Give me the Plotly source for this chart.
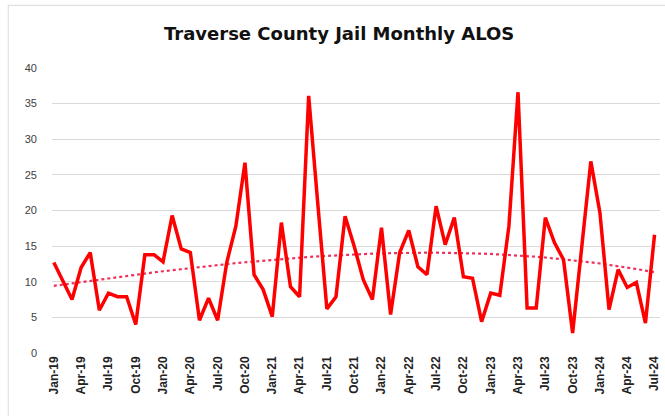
import numpy as np
import plotly.graph_objects as go

months = ["Jan", "Feb", "Mar", "Apr", "May", "Jun", "Jul", "Aug", "Sep", "Oct", "Nov", "Dec"]
categories = [f"{months[m]}-{y % 100:02d}" for y in range(2019, 2025) for m in range(12)][:67]

alos = [12.7, 10.0, 7.5, 12.0, 14.1, 6.0, 8.4, 7.9, 7.9, 4.0, 13.8, 13.8,
        12.8, 19.3, 14.6, 14.1, 4.6, 7.7, 4.6, 12.7, 17.8, 26.7, 11.0, 8.9,
        5.1, 18.3, 9.3, 7.9, 36.1, 21.0, 6.2, 7.9, 19.2, 15.0, 10.3, 7.5,
        17.6, 5.4, 14.1, 17.2, 12.1, 11.0, 20.6, 15.2, 19.0, 10.7, 10.5, 4.4,
        8.4, 8.1, 17.8, 36.6, 6.3, 6.3, 19.0, 15.5, 13.1, 2.8, 15.0, 26.9,
        19.7, 6.1, 11.7, 9.2, 9.9, 4.2, 16.6]

tick_labels = categories[::3]

x = np.arange(len(alos))
coef = np.polyfit(x, alos, 3)
trend = np.polyval(coef, x)

fig = go.Figure()
fig.add_trace(go.Scatter(x=x, y=trend, mode="lines",
                         line=dict(color="#F0305A", width=2.2, dash="dot"),
                         hoverinfo="skip"))
fig.add_trace(go.Scatter(x=x, y=alos, mode="lines",
                         line=dict(color="#FF0000", width=3.5)))

fig.update_layout(
    width=665, height=416,
    margin=dict(l=52, r=5, t=68, b=63),
    paper_bgcolor="white", plot_bgcolor="white",
    showlegend=False,
    title=dict(text="<b>Traverse County Jail Monthly ALOS</b>",
               x=0.51, xanchor="center", y=0.92, yanchor="middle",
               font=dict(family="DejaVu Sans", size=18, color="#111111")),
    xaxis=dict(range=[-0.2, 66.6], tickmode="array",
               tickvals=list(x[::3]), ticktext=[f"<b>{t}</b>" for t in tick_labels],
               tickangle=-90, showgrid=False, zeroline=False,
               showline=False, ticks="",
               tickfont=dict(family="Liberation Sans", size=12, color="#222222")),
    yaxis=dict(range=[0, 40], dtick=5, showgrid=True, gridcolor="#D9D9D9",
               gridwidth=1, zeroline=False, showline=False, ticks="",
               ticklabelstandoff=14,
               tickfont=dict(family="Liberation Sans", size=11, color="#404040")),
    shapes=[dict(type="rect", xref="paper", yref="paper",
                 x0=-0.072, x1=1.03, y0=-0.25, y1=1.22,
                 line=dict(color="#D9D9D9", width=1))],
)

fig.write_html("out.html", config={"displayModeBar": False},
               post_script="document.body.style.margin='0';")
